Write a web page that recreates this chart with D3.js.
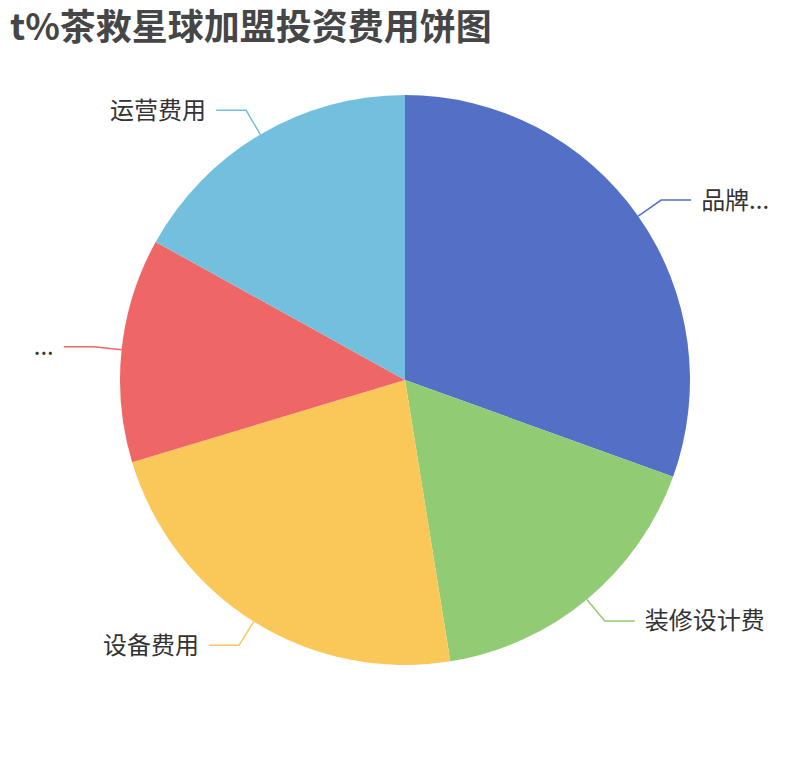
<!DOCTYPE html>
<html>
<head>
<meta charset="utf-8">
<script src="https://cdn.jsdelivr.net/npm/d3@7"></script>
<style>
  body { margin: 0; background: #fff; }
  text { font-family: "Noto Sans CJK SC", "Noto Sans", sans-serif; }
</style>
</head>
<body>
<div id="chart"></div>
<script>
const title = "t%茶救星球加盟投资费用饼图"
const categories = ["品牌...", "装修设计费", "设备费用", "...", "运营费用"]
const values = [3.6, 2, 2.7, 1.5, 2]
const colors = ["#5470c6", "#91cc75", "#fac858", "#ee6666", "#73c0de"]

const width = 810
const height = 760
const cx = 405
const cy = 380
const radius = 285
const lineLen = 28
const lineLen2 = 30

const svg = d3.select("#chart").append("svg")
  .attr("width", width)
  .attr("height", height)

svg.append("text")
  .attr("x", 10)
  .attr("y", 40)
  .attr("font-size", 36)
  .attr("font-weight", "bold")
  .attr("fill", "#464646")
  .text(title)

const data = categories.map((c, i) => ({ name: c, value: values[i], color: colors[i] }))

const pie = d3.pie().sort(null).value(d => d.value)
const arc = d3.arc().innerRadius(0).outerRadius(radius)
const arcs = pie(data)

const g = svg.append("g").attr("transform", "translate(" + cx + "," + cy + ")")

// slices
g.selectAll("path.slice")
  .data(arcs)
  .enter().append("path")
  .attr("class", "slice")
  .attr("d", arc)
  .attr("fill", d => d.data.color)

// label lines + labels
arcs.forEach(d => {
  const mid = (d.startAngle + d.endAngle) / 2
  const p0 = d3.pointRadial(mid, radius)
  const p1 = d3.pointRadial(mid, radius + lineLen)
  const right = p1[0] >= 0
  const p2 = [p1[0] + (right ? lineLen2 : -lineLen2), p1[1]]

  g.append("polyline")
    .attr("points", [p0, p1, p2].map(p => p.join(",")).join(" "))
    .attr("fill", "none")
    .attr("stroke", d.data.color)
    .attr("stroke-width", 1.5)

  g.append("text")
    .attr("x", p2[0] + (right ? 10 : -10))
    .attr("y", p2[1])
    .attr("dy", "0.35em")
    .attr("text-anchor", right ? "start" : "end")
    .attr("font-size", 24)
    .attr("fill", "#333")
    .text(d.data.name)
})
</script>
</body>
</html>
